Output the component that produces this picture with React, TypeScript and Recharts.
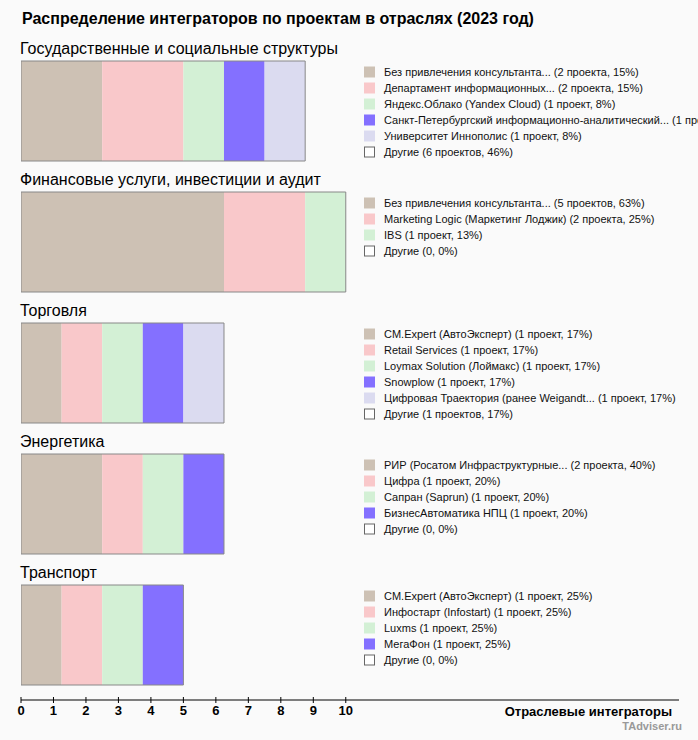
import { BarChart, Bar, XAxis, YAxis } from 'recharts';

// bar lengths are in axis units as drawn (1 project = 1.25)
const industries = [
  'Государственные и социальные структуры',
  'Финансовые услуги, инвестиции и аудит',
  'Торговля',
  'Энергетика',
  'Транспорт',
];

const govValues = [2.5, 2.5, 1.25, 1.25, 1.25];
const finValues = [6.25, 2.5, 1.25];
const tradeValues = [1.25, 1.25, 1.25, 1.25, 1.25];
const energyValues = [2.5, 1.25, 1.25, 1.25];
const transportValues = [1.25, 1.25, 1.25, 1.25];

const govLegend = [
  'Без привлечения консультанта... (2 проекта, 15%)',
  'Департамент информационных... (2 проекта, 15%)',
  'Яндекс.Облако (Yandex Cloud) (1 проект, 8%)',
  'Санкт-Петербургский информационно-аналитический... (1 проект, 8%)',
  'Университет Иннополис (1 проект, 8%)',
  'Другие (6 проектов, 46%)',
];
const finLegend = [
  'Без привлечения консультанта... (5 проектов, 63%)',
  'Marketing Logic (Маркетинг Лоджик) (2 проекта, 25%)',
  'IBS (1 проект, 13%)',
  'Другие (0, 0%)',
];
const tradeLegend = [
  'CM.Expert (АвтоЭксперт) (1 проект, 17%)',
  'Retail Services (1 проект, 17%)',
  'Loymax Solution (Лоймакс) (1 проект, 17%)',
  'Snowplow (1 проект, 17%)',
  'Цифровая Траектория (ранее Weigandt... (1 проект, 17%)',
  'Другие (1 проектов, 17%)',
];
const energyLegend = [
  'РИР (Росатом Инфраструктурные... (2 проекта, 40%)',
  'Цифра (1 проект, 20%)',
  'Сапран (Saprun) (1 проект, 20%)',
  'БизнесАвтоматика НПЦ (1 проект, 20%)',
  'Другие (0, 0%)',
];
const transportLegend = [
  'CM.Expert (АвтоЭксперт) (1 проект, 25%)',
  'Инфостарт (Infostart) (1 проект, 25%)',
  'Luxms (1 проект, 25%)',
  'МегаФон (1 проект, 25%)',
  'Другие (0, 0%)',
];

const xTicks = [0, 1, 2, 3, 4, 5, 6, 7, 8, 9, 10];
const colors = ['#cdc1b4', '#f9c8ca', '#d3f0d5', '#8470ff', '#dbdbf0'];
const segmentKeys = ['s0', 's1', 's2', 's3', 's4'];

const segmentValues = [govValues, finValues, tradeValues, energyValues, transportValues];
const legends = [govLegend, finLegend, tradeLegend, energyLegend, transportLegend];

const data = industries.map((name, i) => {
  const row: Record<string, string | number> = { name };
  segmentValues[i].forEach((v, j) => {
    row[segmentKeys[j]] = v;
  });
  row.total = segmentValues[i].reduce((a, b) => a + b, 0);
  return row;
});

const FONT = '"Liberation Sans", Arial, Helvetica, sans-serif';

function GroupTick(props: any) {
  const { y, payload } = props;
  const idx = industries.indexOf(payload.value);
  const items = legends[idx] || [];
  return (
    <g fontFamily={FONT}>
      <text x={20} y={y - 56.5} fontSize={16} fill="#000">
        {payload.value}
      </text>
      {items.map((label, i) => {
        const cy = y - 38.5 + i * 16;
        const other = i === items.length - 1;
        return (
          <g key={label}>
            <rect
              x={other ? 364.5 : 364}
              y={other ? cy - 5 : cy - 5.5}
              width={other ? 10 : 11}
              height={other ? 10 : 11}
              fill={other ? '#fff' : colors[i]}
              stroke={other ? '#666' : 'none'}
            />
            <text x={384} y={cy + 4} fontSize={11} fill="#111">
              {label}
            </text>
          </g>
        );
      })}
    </g>
  );
}

function AxisTick(props: any) {
  const { x, y, payload } = props;
  return (
    <g>
      <line x1={x} x2={x} y1={y - 3} y2={y + 3} stroke="#000" />
      <text x={x} y={y + 15} textAnchor="middle" fontSize={13} fontWeight="bold" fontFamily={FONT} fill="#000">
        {payload.value}
      </text>
    </g>
  );
}

export default function App() {
  return (
    <div style={{ position: 'absolute', left: 0, top: 0, width: 698, height: 740, background: '#fafafa', fontFamily: FONT }}>
      <BarChart
        width={698}
        height={740}
        data={data}
        layout="vertical"
        margin={{ top: 45, right: 19, bottom: 10, left: 20 }}
        barSize={100}
        barGap={-100}
        barCategoryGap={0}
      >
        <XAxis
          type="number"
          domain={[0, 20.26]}
          ticks={xTicks}
          interval={0}
          tickSize={0}
          tickMargin={0}
          tickLine={false}
          axisLine={{ stroke: '#000' }}
          tick={<AxisTick />}
          height={30}
          allowDataOverflow
          label={{
            value: 'Отраслевые интеграторы',
            position: 'insideTopRight',
            offset: 7,
            fontSize: 13,
            fontWeight: 'bold',
            fill: '#000',
            fontFamily: FONT,
          }}
        />
        <YAxis
          type="category"
          dataKey="name"
          width={1}
          axisLine={false}
          tickLine={false}
          interval={0}
          tick={<GroupTick />}
        />
        {segmentKeys.map((k, j) => (
          <Bar key={k} dataKey={k} stackId="seg" fill={colors[j]} isAnimationActive={false} />
        ))}
        <Bar dataKey="total" fill="none" stroke="#888" strokeWidth={1} isAnimationActive={false} />
      </BarChart>
      <svg width={698} height={740} style={{ position: 'absolute', left: 0, top: 0, pointerEvents: 'none' }}>
        <text x={22} y={23.5} fontSize={16} fontWeight="bold" fontFamily={FONT} fill="#000">
          Распределение интеграторов по проектам в отраслях (2023 год)
        </text>
        <text x={682} y={729.5} textAnchor="end" fontSize={11} fontWeight="bold" fontFamily={FONT} fill="#999">
          TAdviser.ru
        </text>
      </svg>
    </div>
  );
}
